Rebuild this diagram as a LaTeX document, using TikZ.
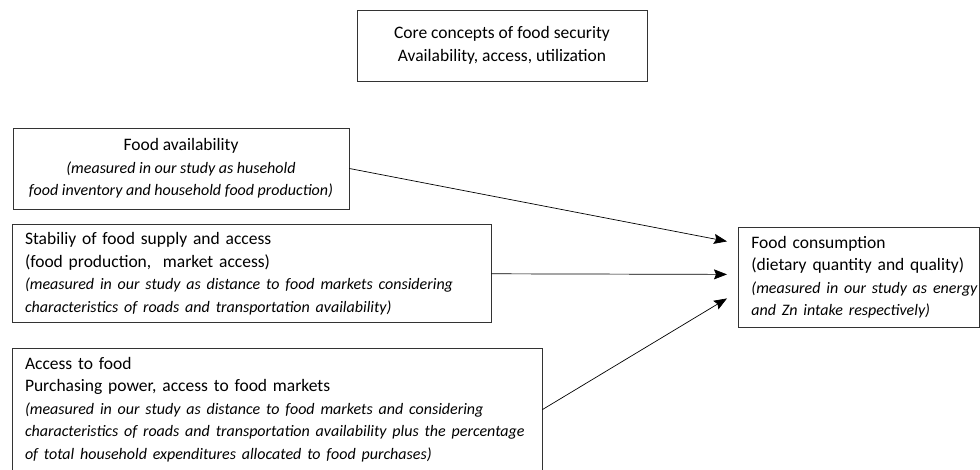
\documentclass[tikz,border=0pt]{standalone}
\usepackage{fontspec}
\setmainfont{Carlito}
\usetikzlibrary{arrows.meta,positioning}
\newcommand{\measline}[1]{\mbox{\fontsize{16}{22.5}\itshape #1}}

\begin{document}
\begin{tikzpicture}[x=1pt,y=-1pt,node distance=15pt,-{Stealth[length=13pt,width=10pt,inset=2pt]},line width=0.7pt,font=\fontsize{17.5}{22.5}\selectfont]
  \tikzstyle{box} = [draw=black!80,line width=0.8pt,rectangle,inner xsep=13pt,inner ysep=0pt,-]
  \tikzstyle{midbox} = [box,align=center,inner xsep=4pt]
  \tikzstyle{leftbox} = [box,align=left,anchor=north west,text width=#1]
  \useasboundingbox (0,0) rectangle (980,470);

  \node [midbox,minimum width=290pt,minimum height=71pt] at (502,45.5) (core)
    {Core concepts of food security\\Availability, access, utilization};
  \node [midbox,minimum width=336pt,minimum height=81pt] at (181,168.5) (avail)
    {Food availability\\
     \measline{(measured in our study as husehold}\\
     \measline{food inventory and household food production)}};
  \node [leftbox=453pt,minimum height=98pt,below=15pt of avail.south west,anchor=north west,xshift=-1pt] (stab)
    {Stabiliy of food supply and access\\
     (food production,\ \ market access)\\
     \measline{(measured in our study as distance to food markets considering}\\
     \measline{characteristics of roads and transportation availability)}};
  \node [leftbox=504pt,minimum height=122pt,below=25pt of stab.south west,anchor=north west] (access)
    {Access to food\\
     Purchasing power, access to food markets\\
     \measline{(measured in our study as distance to food markets and considering}\\
     \measline{characteristics of roads and transportation availability plus the percentage}\\
     \measline{of total household expenditures allocated to food purchases)}};
  \node [leftbox=215pt,minimum height=100pt] at (738,227) (cons)
    {Food consumption\\
     (dietary quantity and quality)\\
     \measline{(measured in our study as energy}\\
     \measline{and Zn intake respectively)}};

  \draw (avail.east) -- ([xshift=-11pt,yshift=36pt]cons.west);
  \draw (stab.east) -- ([xshift=-11pt,yshift=3pt]cons.west);
  \draw (access.east) -- ([xshift=-11pt,yshift=-21pt]cons.west);
\end{tikzpicture}
\end{document}
